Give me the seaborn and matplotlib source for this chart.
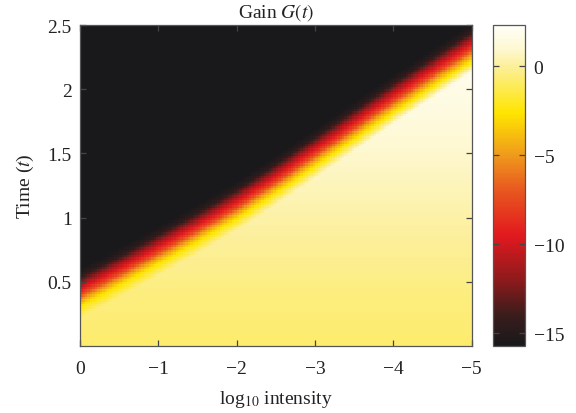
import numpy as np
import pandas as pd
import seaborn as sns
import matplotlib
matplotlib.use("Agg")
import matplotlib.pyplot as plt
from matplotlib.colors import LinearSegmentedColormap

# values
log_int = [0, -0.5, -1, -1.5, -2, -2.5, -3, -3.5, -4, -4.5, -5]
t_front = [0.44, 0.60, 0.77, 0.94, 1.12, 1.32, 1.53, 1.74, 1.95, 2.15, 2.35]   # red centre of the band
t_floor = [0, 0.5, 1.0, 1.5, 2.0, 2.5]
g_floor = [-0.8, -0.4, 0.2, 0.9, 1.7, 2.3]        # gain below the band
dt_profile = [-0.22, -0.13, -0.08, -0.04, 0, 0.05, 0.10, 0.16]
g_profile = [np.nan, -2.6, -5, -7.5, -9.5, -12, -14.5, -15.7]
vmin, vmax = -15.7, 2.3

x_ticks = [0, -1, -2, -3, -4, -5]
y_ticks = [0.5, 1, 1.5, 2, 2.5]
cbar_ticks = [0, -5, -10, -15]

# grid of cells
nx, ny = 160, 130
dx, dt = 5 / nx, 2.5 / ny
xc = -(np.arange(nx) + 0.5) * dx
tc = (np.arange(ny) + 0.5) * dt
X, T = np.meshgrid(xc, tc)

front = np.interp(-X, -np.array(log_int), t_front)
d = T - front
floor = np.interp(T, t_floor, g_floor)
band = np.interp(d, dt_profile[1:], g_profile[1:])
w = np.clip((d - dt_profile[0]) / (dt_profile[1] - dt_profile[0]), 0, 1)
G = np.where(d < dt_profile[1], floor + w * (g_profile[1] - floor), band)

df = pd.DataFrame(G, index=np.round(tc, 4), columns=np.round(xc, 4))

# colour map (white - yellow - orange - red - black)
stops = [(-15.7, "#19191b"), (-14.0, "#3a1c1c"), (-12.0, "#8e1a1c"), (-9.5, "#e2191f"),
         (-7.0, "#e8561f"), (-5.0, "#ef9a1c"), (-2.6, "#ffe500"), (0.0, "#fcef9a"),
         (1.0, "#fef8d2"), (2.3, "#fffef8")]
cmap = LinearSegmentedColormap.from_list(
    "gain", [((v - vmin) / (vmax - vmin), c) for v, c in stops])

plt.rcParams["font.family"] = ["Liberation Serif", "DejaVu Serif"]
plt.rcParams["mathtext.fontset"] = "stix"
plt.rcParams["axes.unicode_minus"] = True

fs = 14
fig = plt.figure(figsize=(5.76, 4.14), dpi=100)
ax = fig.add_axes([0.139, 0.162, 0.680, 0.775])
cax = fig.add_axes([0.856, 0.162, 0.056, 0.775])

sns.heatmap(df, ax=ax, cbar_ax=cax, cmap=cmap, vmin=vmin, vmax=vmax,
            xticklabels=False, yticklabels=False)
ax.invert_yaxis()

frame = "#555555"
for s in ax.spines.values():
    s.set_visible(True)
    s.set_color(frame)
    s.set_linewidth(0.9)

ax.set_xticks([-v / dx for v in x_ticks])
ax.set_xticklabels(["0" if v == 0 else "\u2212%d" % -v for v in x_ticks])
ax.set_yticks([v / dt for v in y_ticks])
ax.set_yticklabels(["%g" % v for v in y_ticks], rotation=0)
ax.tick_params(axis="both", direction="in", top=True, right=True, length=4,
               width=0.9, color="#444444", labelsize=fs, labelcolor="#222222")
ax.tick_params(axis="x", pad=10)
ax.tick_params(axis="y", pad=6)

ax.set_title("Gain $G(t)$", fontsize=fs, color="#222222", pad=6)
ax.set_xlabel("log$_{10}$ intensity", fontsize=fs, color="#222222", labelpad=8)
ax.set_ylabel("Time ($t$)", fontsize=fs, color="#222222", labelpad=8)

cbar = ax.collections[0].colorbar
cbar.set_ticks(cbar_ticks)
cbar.set_ticklabels(["0" if v == 0 else "\u2212%d" % -v for v in cbar_ticks])
cbar.outline.set_visible(True)
cbar.outline.set_edgecolor(frame)
cbar.outline.set_linewidth(0.9)
cax.tick_params(direction="in", left=True, right=True, length=4, width=0.9,
                color="#444444", labelsize=fs, labelcolor="#222222", pad=6)

fig.savefig("out.png", dpi=100)
